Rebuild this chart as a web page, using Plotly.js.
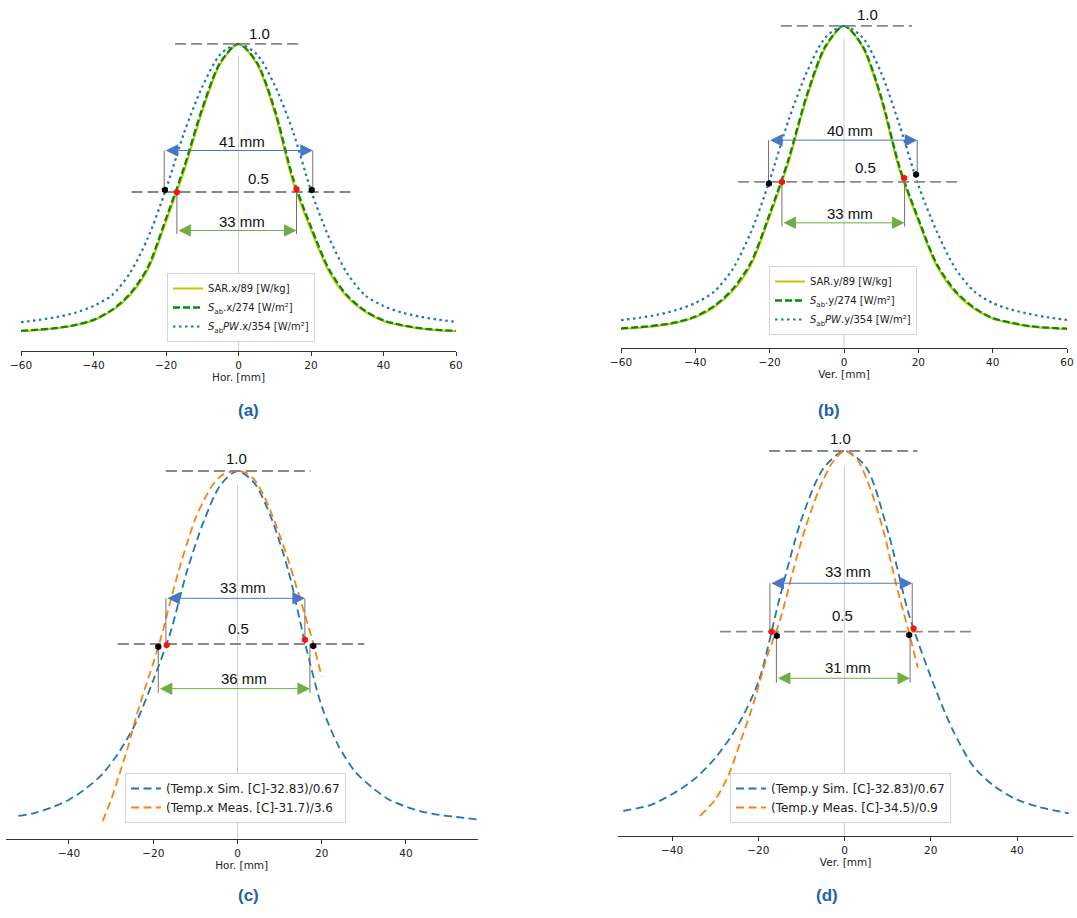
<!DOCTYPE html>
<html>
<head>
<meta charset="utf-8">
<script src="https://cdn.plot.ly/plotly-3.0.1.min.js"></script>
<style>
  html, body { margin: 0; padding: 0; background: #fff; }
  #chart { width: 1077px; height: 918px; }
</style>
</head>
<body>
<div id="chart"></div>
<script>
// ---------- profile data (normalised) ----------
// (a) horizontal cut
const xA      = [-60,-55,-50,-45,-40,-35,-30,-25,-20,-15,-10,-5,0,5,10,15,20,25,30,35,40,45,50,55,60];
const sarA    = [0.030,0.034,0.040,0.050,0.066,0.098,0.150,0.238,0.400,0.572,0.772,0.933,1.000,0.934,0.768,0.535,0.372,0.230,0.145,0.095,0.064,0.049,0.039,0.033,0.030];
const sabA    = [0.031,0.035,0.041,0.051,0.068,0.101,0.155,0.246,0.410,0.584,0.782,0.938,1.000,0.939,0.778,0.548,0.382,0.238,0.150,0.098,0.066,0.050,0.040,0.034,0.031];
const sabPwA  = [0.060,0.068,0.078,0.092,0.115,0.150,0.225,0.345,0.510,0.700,0.855,0.965,1.000,0.966,0.860,0.705,0.505,0.345,0.225,0.150,0.115,0.093,0.079,0.069,0.061];

// (b) vertical cut
const xB      = [-60,-55,-50,-45,-40,-35,-30,-25,-20,-15,-10,-5,0,5,10,15,20,25,30,35,40,45,50,55,60];
const sarB    = [0.029,0.033,0.039,0.049,0.066,0.098,0.150,0.235,0.390,0.560,0.770,0.930,1.000,0.932,0.765,0.535,0.375,0.230,0.145,0.094,0.062,0.047,0.037,0.032,0.029];
const sabB    = [0.031,0.035,0.041,0.051,0.069,0.102,0.156,0.243,0.398,0.570,0.778,0.935,1.000,0.936,0.772,0.545,0.382,0.236,0.150,0.097,0.064,0.049,0.038,0.033,0.030];
const sabPwB  = [0.057,0.065,0.075,0.090,0.112,0.148,0.220,0.340,0.505,0.695,0.852,0.963,1.000,0.963,0.850,0.680,0.490,0.340,0.222,0.150,0.112,0.091,0.077,0.066,0.058];

// (c) horizontal temperature
const xSimC   = [-52,-48,-44,-40,-36,-32,-28,-24,-20,-16,-12,-8,-4,0,4,8,12,16,20,24,28,32,36,40,44,48,52,57];
const simC    = [0.003,0.012,0.028,0.050,0.082,0.125,0.190,0.275,0.395,0.530,0.710,0.855,0.960,1.000,0.965,0.865,0.715,0.505,0.320,0.205,0.130,0.085,0.050,0.030,0.015,0.006,0.000,-0.007];
const xMeasC  = [-32,-30,-28,-26,-24,-22,-20,-18,-16,-14,-12,-10,-8,-6,-4,-2,0,2,4,6,8,10,12,14,16,18,20];
const measC   = [-0.012,0.050,0.125,0.202,0.292,0.370,0.445,0.525,0.620,0.710,0.790,0.862,0.915,0.958,0.985,0.997,1.000,0.995,0.975,0.935,0.880,0.815,0.745,0.665,0.585,0.500,0.405];

// (d) vertical temperature
const xSimD   = [-51.3,-45,-40,-35,-30,-25,-20,-15,-10,-5,0,5,10,15,20,25,30,35,40,45,52];
const simD    = [0.004,0.020,0.050,0.090,0.150,0.235,0.360,0.595,0.810,0.950,1.000,0.955,0.780,0.545,0.375,0.230,0.125,0.070,0.035,0.015,-0.003];
const xMeasD  = [-33.5,-30,-27,-24,-21,-18,-15,-12,-9,-6,-3,0,3,6,9,12,15,17];
const measD   = [-0.010,0.035,0.100,0.200,0.305,0.430,0.530,0.665,0.790,0.890,0.965,1.000,0.975,0.895,0.780,0.630,0.495,0.400];

// legend labels
const namesA = ['SAR.x/89 [W/kg]', '<i>S</i><sub>ab</sub>.x/274 [W/m²]', '<i>S</i><sub>ab</sub><i>PW</i>.x/354 [W/m²]'];
const namesB = ['SAR.y/89 [W/kg]', '<i>S</i><sub>ab</sub>.y/274 [W/m²]', '<i>S</i><sub>ab</sub><i>PW</i>.y/354 [W/m²]'];
const namesC = ['(Temp.x Sim. [C]-32.83)/0.67', '(Temp.x Meas. [C]-31.7)/3.6'];
const namesD = ['(Temp.y Sim. [C]-32.83)/0.67', '(Temp.y Meas. [C]-34.5)/0.9'];
const axisTitles = ['Hor. [mm]', 'Ver. [mm]', 'Hor. [mm]', 'Ver. [mm]'];
const captions = ['(a)', '(b)', '(c)', '(d)'];

// reference levels
const peakLevel = 1.0;
const halfLevel = 0.5;

// extent of the dashed level lines per panel
const peakSpanA = [-17.5, 17.5],  halfSpanA = [-29.5, 31.0];
const peakSpanB = [-17.0, 18.3],  halfSpanB = [-28.5, 31.3];
const peakSpanC = [-17.0, 17.4],  halfSpanC = [-28.4, 30.1];
const peakSpanD = [-17.5, 16.9],  halfSpanD = [-28.9, 29.8];

// width arrows (ends of each double arrow)
const upperArrowA = [-20.5, 20.5], lowerArrowA = [-17.0, 16.0];
const upperArrowB = [-20.3, 19.7], lowerArrowB = [-16.7, 16.3];
const upperArrowC = [-17.0, 16.0], lowerArrowC = [-18.8, 17.2];
const upperArrowD = [-17.3, 15.7], lowerArrowD = [-15.8, 15.2];
const upperArrowLevel = [0.64, 0.634, 0.632, 0.634];
const lowerArrowLevel = [0.37, 0.369, 0.371, 0.371];

// half-maximum crossing points
const blackDotsAx = [-20.3, 20.2], blackDotsAy = [0.507, 0.507];
const redDotsAx   = [-17.0, 16.0], redDotsAy   = [0.499, 0.509];
const blackDotsBx = [-20.2, 19.4], blackDotsBy = [0.495, 0.524];
const redDotsBx   = [-16.7, 16.2], redDotsBy   = [0.500, 0.513];
const blackDotsCx = [-18.8, 18.0], blackDotsCy = [0.492, 0.494];
const redDotsCx   = [-16.8, 16.0], redDotsCy   = [0.497, 0.512];
const blackDotsDx = [-15.7, 15.0], blackDotsDy = [0.489, 0.491];
const redDotsDx   = [-16.9, 16.0], redDotsDy   = [0.500, 0.509];

// ---------- page geometry (pixels) ----------
const W = 1077, H = 918;
const px = v => v / W;
const py = v => 1 - v / H;

const panels = [
  { ax: '',  xr: [-60, 60],     xpx: [21, 456],      ypx: [12, 351],  yr: [-0.0372, 1.108],  ticks: [-60,-40,-20,0,20,40,60] },
  { ax: '2', xr: [-60, 60],     xpx: [621, 1067],    ypx: [5, 348],   yr: [-0.032, 1.067],   ticks: [-60,-40,-20,0,20,40,60] },
  { ax: '3', xr: [-55, 57],     xpx: [5.8, 477.6],   ypx: [440, 839], yr: [-0.0636, 1.0896], ticks: [-40,-20,0,20,40] },
  { ax: '4', xr: [-52.5, 53],   xpx: [618.1, 1073.1], ypx: [425, 836], yr: [-0.0656, 1.072],  ticks: [-40,-20,0,20,40] }
];

const traces = [];
const annotations = [];

function addCurve(i, x, y, name, line, legendId) {
  const p = panels[i];
  traces.push({
    type: 'scatter', mode: 'lines', x: x, y: y, name: name,
    xaxis: 'x' + p.ax, yaxis: 'y' + p.ax, legend: legendId,
    line: Object.assign({ shape: 'spline', smoothing: 0.8 }, line),
    hoverinfo: 'skip'
  });
}

function addGuide(i, x, y, line) {
  const p = panels[i];
  traces.push({
    type: 'scatter', mode: 'lines', x: x, y: y, showlegend: false,
    xaxis: 'x' + p.ax, yaxis: 'y' + p.ax, line: line, hoverinfo: 'skip'
  });
}

function addDots(i, x, y, color) {
  const p = panels[i];
  traces.push({
    type: 'scatter', mode: 'markers', x: x, y: y, showlegend: false,
    xaxis: 'x' + p.ax, yaxis: 'y' + p.ax,
    marker: { symbol: 'hexagon', size: 7, color: color }, hoverinfo: 'skip'
  });
}

function addText(i, x, y, text) {
  const p = panels[i];
  annotations.push({
    xref: 'x' + p.ax, yref: 'y' + p.ax, x: x, y: y, text: text, showarrow: false,
    font: { family: 'Liberation Sans, Arial, sans-serif', size: 15, color: '#111' }
  });
}

function addArrow(i, span, level, color) {
  const p = panels[i];
  annotations.push({
    xref: 'x' + p.ax, yref: 'y' + p.ax, axref: 'x' + p.ax, ayref: 'y' + p.ax,
    x: span[1], y: level, ax: span[0], ay: level, text: '',
    showarrow: true, arrowside: 'end+start',
    arrowhead: 2, startarrowhead: 2, arrowsize: 2.5, startarrowsize: 2.5,
    arrowwidth: 1, arrowcolor: color, standoff: 0, startstandoff: 0
  });
  const width = Math.round(span[1] - span[0]);
  return width + ' mm';
}

function decorate(i, peakSpan, halfSpan, upper, lower, blackX, blackY, redX, redY, upperDrop, lowerDrop, upperLabelX, lowerLabelX, levelLabelX) {
  const p = panels[i];
  // centre line
  addGuide(i, [0, 0], [p.yr[0], 0.96], { color: '#cfcfcf', width: 1 });
  // peak and half-maximum levels
  addGuide(i, peakSpan, [peakLevel, peakLevel], { color: '#888', width: 1.8, dash: '11px,5px' });
  addGuide(i, halfSpan, [halfLevel, halfLevel], { color: '#888', width: 1.8, dash: '11px,5px' });
  // connectors from arrows to crossings
  const ua = upperArrowLevel[i], la = lowerArrowLevel[i];
  addGuide(i, [upper[0], upper[0]], [ua, upperDrop[0]], { color: '#707070', width: 1 });
  addGuide(i, [upper[1], upper[1]], [ua, upperDrop[1]], { color: '#707070', width: 1 });
  addGuide(i, [lower[0], lower[0]], [lowerDrop[0], la - 0.012], { color: '#707070', width: 1 });
  addGuide(i, [lower[1], lower[1]], [lowerDrop[1], la - 0.012], { color: '#707070', width: 1 });
  addDots(i, blackX, blackY, '#000000');
  addDots(i, redX, redY, '#ff1010');
  const upLabel = addArrow(i, upper, ua, '#4a76c8');
  const lowLabel = addArrow(i, lower, la, '#70ad47');
  addText(i, levelLabelX[0], peakLevel + 0.035, peakLevel.toFixed(1));
  addText(i, levelLabelX[1], halfLevel + 0.045, halfLevel.toFixed(1));
  addText(i, upperLabelX, ua + 0.032, upLabel);
  addText(i, lowerLabelX, la + 0.03, lowLabel);
}

// ---------- panel (a) ----------
addCurve(0, xA, sarA,   namesA[0], { color: '#c6c600', width: 2 }, 'legend');
addCurve(0, xA, sabA,   namesA[1], { color: '#0a8a0a', width: 2.3, dash: '7px,3px' }, 'legend');
addCurve(0, xA, sabPwA, namesA[2], { color: '#1f77b4', width: 2.2, dash: '2.5px,3.5px' }, 'legend');
decorate(0, peakSpanA, halfSpanA, upperArrowA, lowerArrowA, blackDotsAx, blackDotsAy, redDotsAx, redDotsAy,
         [halfLevel, halfLevel], [halfLevel, halfLevel], 1.0, 1.0, [5.8, 5.6]);

// ---------- panel (b) ----------
addCurve(1, xB, sarB,   namesB[0], { color: '#c6c600', width: 2 }, 'legend2');
addCurve(1, xB, sabB,   namesB[1], { color: '#0a8a0a', width: 2.3, dash: '7px,3px' }, 'legend2');
addCurve(1, xB, sabPwB, namesB[2], { color: '#1f77b4', width: 2.2, dash: '2.5px,3.5px' }, 'legend2');
decorate(1, peakSpanB, halfSpanB, upperArrowB, lowerArrowB, blackDotsBx, blackDotsBy, redDotsBx, redDotsBy,
         [halfLevel, blackDotsBy[1]], [halfLevel, halfLevel], 1.6, 1.6, [6.2, 5.9]);

// ---------- panel (c) ----------
addCurve(2, xSimC,  simC,  namesC[0], { color: '#1f77b4', width: 1.8, dash: '8px,4.5px' }, 'legend3');
addCurve(2, xMeasC, measC, namesC[1], { color: '#ff7f0e', width: 1.8, dash: '8px,4.5px' }, 'legend3');
decorate(2, peakSpanC, halfSpanC, upperArrowC, lowerArrowC, blackDotsCx, blackDotsCy, redDotsCx, redDotsCy,
         [halfLevel, halfLevel], [halfLevel, halfLevel], 1.3, 1.5, [-0.2, 0.2]);

// ---------- panel (d) ----------
addCurve(3, xSimD,  simD,  namesD[0], { color: '#1f77b4', width: 1.8, dash: '8px,4.5px' }, 'legend4');
addCurve(3, xMeasD, measD, namesD[1], { color: '#ff7f0e', width: 1.8, dash: '8px,4.5px' }, 'legend4');
decorate(3, peakSpanD, halfSpanD, upperArrowD, lowerArrowD, blackDotsDx, blackDotsDy, redDotsDx, redDotsDy,
         [halfLevel, halfLevel], [blackDotsDy[0], blackDotsDy[1]], 0.8, 0.85, [-0.9, -0.5]);

// ---------- captions ----------
const captionPos = [[236, 410], [842, 410], [236, 907], [840, 907]];
captions.forEach((c, i) => {
  annotations.push({
    xref: 'paper', yref: 'paper', x: px(captionPos[i][0]), y: py(captionPos[i][1]),
    text: '<b>' + c + '</b>', showarrow: false,
    font: { family: 'Liberation Sans, Arial, sans-serif', size: 17, color: '#1f63a6' }
  });
});

// ---------- layout ----------
const layout = {
  width: W, height: H,
  margin: { l: 0, r: 0, t: 0, b: 0 },
  paper_bgcolor: '#fff', plot_bgcolor: 'rgba(0,0,0,0)',
  showlegend: true,
  annotations: annotations
};

panels.forEach((p, i) => {
  layout['xaxis' + p.ax] = {
    domain: [px(p.xpx[0]), px(p.xpx[1])], range: p.xr, anchor: 'y' + p.ax,
    tickvals: p.ticks, ticks: 'outside', ticklen: 4, tickwidth: 1, tickcolor: '#333',
    showline: true, linecolor: '#333', linewidth: 1, showgrid: false, zeroline: false,
    tickfont: { family: 'DejaVu Sans, sans-serif', size: 10.5, color: '#222' },
    title: { text: axisTitles[i], font: { family: 'DejaVu Sans, sans-serif', size: 10.5, color: '#222' }, standoff: 4 },
    fixedrange: true
  };
  layout['yaxis' + p.ax] = {
    domain: [py(p.ypx[1]), py(p.ypx[0])], range: p.yr, anchor: 'x' + p.ax,
    visible: false, showgrid: false, zeroline: false, fixedrange: true
  };
});

const legendBase = {
  xanchor: 'left', yanchor: 'top', bgcolor: 'rgba(255,255,255,0.9)',
  bordercolor: '#d4d4d4', borderwidth: 1, itemwidth: 30, tracegroupgap: 0,
  font: { family: 'DejaVu Sans, sans-serif', size: 10, color: '#222' }
};
const bigLegendFont = { family: 'DejaVu Sans, sans-serif', size: 12, color: '#222' };
layout.legend  = Object.assign({}, legendBase, { x: px(167), y: py(273) });
layout.legend2 = Object.assign({}, legendBase, { x: px(769), y: py(266) });
layout.legend3 = Object.assign({}, legendBase, { x: px(125), y: py(773), font: bigLegendFont });
layout.legend4 = Object.assign({}, legendBase, { x: px(730), y: py(773), font: bigLegendFont });

Plotly.newPlot('chart', traces, layout, { staticPlot: true, displayModeBar: false });
</script>
</body>
</html>
